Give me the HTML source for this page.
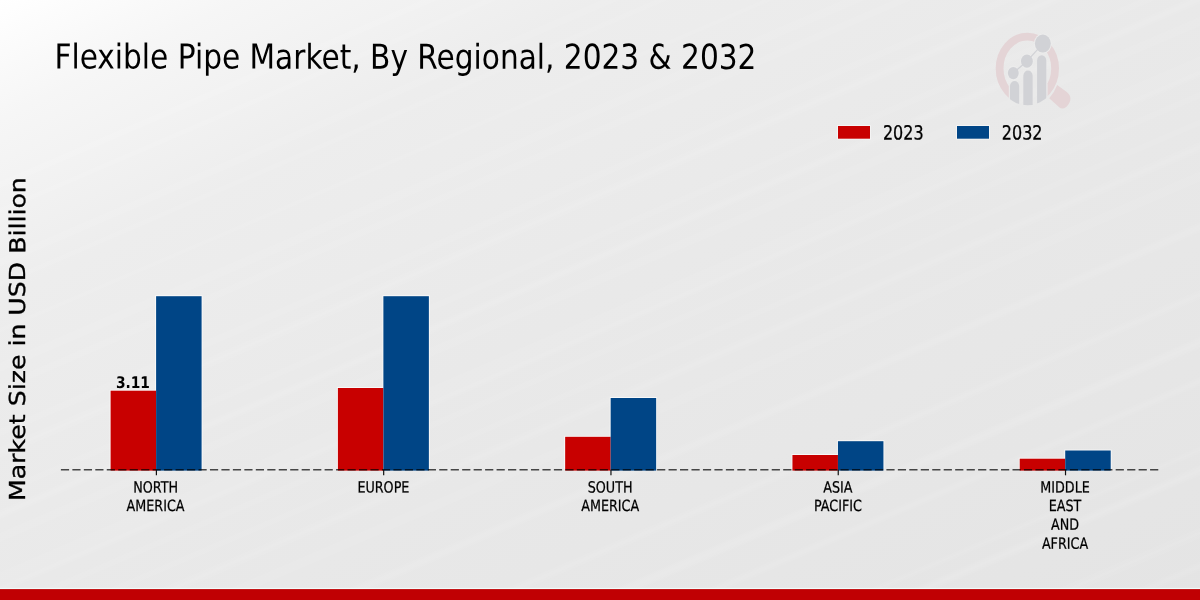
<!DOCTYPE html>
<html lang="en"><head><meta charset="utf-8"><title>Flexible Pipe Market, By Regional, 2023 &amp; 2032</title>
<style>
html,body{margin:0;padding:0;width:1200px;height:600px;overflow:hidden;background:#e6e6e6}
svg{position:absolute;left:0;top:0;display:block}
text{font-family:"DejaVu Sans","Liberation Sans",sans-serif;fill:#000}
</style></head><body>
<svg width="1200" height="600" viewBox="0 0 1200 600">
<defs>
<linearGradient id="bg" x1="0" y1="0" x2="1" y2="1">
<stop offset="0" stop-color="#ffffff"/><stop offset="0.1" stop-color="#f6f6f6"/><stop offset="0.25" stop-color="#ededed"/><stop offset="0.5" stop-color="#e9e9e9"/><stop offset="1" stop-color="#e4e4e4"/>
</linearGradient>
</defs>
<rect width="1200" height="600" fill="url(#bg)"/>
<filter id="sb" x="-5%" y="-5%" width="110%" height="110%"><feGaussianBlur stdDeviation="1.6"/></filter><g stroke="#fff" fill="none" filter="url(#sb)">
<path d="M-10 189.1L1210 -335.5" stroke-width="5.2" stroke-opacity="0.09"/>
<path d="M-10 215.0L1210 -309.6" stroke-width="4.5" stroke-opacity="0.07"/>
<path d="M-10 266.8L1210 -257.8" stroke-width="7.0" stroke-opacity="0.06"/>
<path d="M-10 288.6L1210 -236.0" stroke-width="6.5" stroke-opacity="0.04"/>
<path d="M-10 334.5L1210 -190.1" stroke-width="3.8" stroke-opacity="0.05"/>
<path d="M-10 371.5L1210 -153.1" stroke-width="7.2" stroke-opacity="0.07"/>
<path d="M-10 392.5L1210 -132.1" stroke-width="5.2" stroke-opacity="0.08"/>
<path d="M-10 436.9L1210 -87.7" stroke-width="6.0" stroke-opacity="0.06"/>
<path d="M-10 456.8L1210 -67.8" stroke-width="7.9" stroke-opacity="0.08"/>
<path d="M-10 497.4L1210 -27.2" stroke-width="4.8" stroke-opacity="0.07"/>
<path d="M-10 519.0L1210 -5.6" stroke-width="6.4" stroke-opacity="0.09"/>
<path d="M-10 541.7L1210 17.1" stroke-width="7.5" stroke-opacity="0.06"/>
<path d="M-10 581.8L1210 57.2" stroke-width="8.9" stroke-opacity="0.05"/>
<path d="M-10 592.8L1210 68.2" stroke-width="5.8" stroke-opacity="0.09"/>
<path d="M-10 615.3L1210 90.7" stroke-width="4.3" stroke-opacity="0.07"/>
<path d="M-10 642.8L1210 118.2" stroke-width="3.7" stroke-opacity="0.08"/>
<path d="M-10 667.2L1210 142.6" stroke-width="7.7" stroke-opacity="0.07"/>
<path d="M-10 696.8L1210 172.2" stroke-width="8.3" stroke-opacity="0.06"/>
<path d="M-10 747.5L1210 222.9" stroke-width="7.3" stroke-opacity="0.08"/>
<path d="M-10 814.8L1210 290.2" stroke-width="6.7" stroke-opacity="0.07"/>
<path d="M-10 862.8L1210 338.2" stroke-width="8.1" stroke-opacity="0.1"/>
<path d="M-10 901.4L1210 376.8" stroke-width="6.1" stroke-opacity="0.08"/>
<path d="M-10 970.2L1210 445.6" stroke-width="3.8" stroke-opacity="0.08"/>
<path d="M-10 990.6L1210 466.0" stroke-width="7.1" stroke-opacity="0.1"/>
<path d="M-10 1053.2L1210 528.6" stroke-width="8.0" stroke-opacity="0.06"/>
<path d="M-10 1086.3L1210 561.7" stroke-width="5.6" stroke-opacity="0.08"/>
<path d="M-10 1111.8L1210 587.2" stroke-width="3.6" stroke-opacity="0.07"/>
<path d="M-10 1135.9L1210 611.3" stroke-width="4.4" stroke-opacity="0.05"/>
</g>
<rect x="0" y="587.9" width="1200" height="1.3" fill="#f1fbfb"/>
<rect x="0" y="589.1" width="1200" height="11" fill="#c00003"/>

<text transform="matrix(0.8610 0.0005 0 1 54.4 68.5)" font-size="34.4">Flexible Pipe Market, By Regional, 2023 &amp; 2032</text>
<text transform="translate(25,500.9) rotate(-89.97) scale(1.1455,1)" font-size="22.0" stroke="#000" stroke-width="0.35">Market Size in USD Billion</text>
<rect x="109.70" y="389.80" width="46.40" height="79.00" fill="#fff" fill-opacity="0.75"/>
<rect x="155.20" y="295.30" width="47.30" height="173.50" fill="#fff" fill-opacity="0.75"/>
<rect x="110.60" y="390.7" width="45.50" height="79.90" fill="#c80000"/>
<rect x="156.10" y="296.2" width="45.50" height="174.40" fill="#004586"/>
<rect x="336.98" y="387.10" width="46.40" height="81.70" fill="#fff" fill-opacity="0.75"/>
<rect x="382.48" y="295.30" width="47.30" height="173.50" fill="#fff" fill-opacity="0.75"/>
<rect x="337.88" y="388.0" width="45.50" height="82.60" fill="#c80000"/>
<rect x="383.38" y="296.2" width="45.50" height="174.40" fill="#004586"/>
<rect x="564.26" y="435.90" width="46.40" height="32.90" fill="#fff" fill-opacity="0.75"/>
<rect x="609.76" y="397.10" width="47.30" height="71.70" fill="#fff" fill-opacity="0.75"/>
<rect x="565.16" y="436.8" width="45.50" height="33.80" fill="#c80000"/>
<rect x="610.66" y="398.0" width="45.50" height="72.60" fill="#004586"/>
<rect x="791.54" y="454.10" width="46.40" height="14.70" fill="#fff" fill-opacity="0.75"/>
<rect x="837.04" y="440.30" width="47.30" height="28.50" fill="#fff" fill-opacity="0.75"/>
<rect x="792.44" y="455.0" width="45.50" height="15.60" fill="#c80000"/>
<rect x="837.94" y="441.2" width="45.50" height="29.40" fill="#004586"/>
<rect x="1018.82" y="457.80" width="46.40" height="11.00" fill="#fff" fill-opacity="0.75"/>
<rect x="1064.32" y="449.60" width="47.30" height="19.20" fill="#fff" fill-opacity="0.75"/>
<rect x="1019.72" y="458.7" width="45.50" height="11.90" fill="#c80000"/>
<rect x="1065.22" y="450.5" width="45.50" height="20.10" fill="#004586"/>
<line x1="60.9" y1="469.7" x2="1160.7" y2="469.7" stroke="#000" stroke-opacity="0.7" stroke-width="1.35" stroke-dasharray="8.2 3.265"/>
<line x1="156.40" y1="469.7" x2="156.40" y2="475.3" stroke="#111" stroke-width="1.2"/>
<text transform="matrix(0.8279 0.0005 0 1 155.6 492.6)" font-size="15.4" text-anchor="middle" stroke="#000" stroke-width="0.25">NORTH</text>
<text transform="matrix(0.8279 0.0005 0 1 155.6 510.9)" font-size="15.4" text-anchor="middle" stroke="#000" stroke-width="0.25">AMERICA</text>
<line x1="383.68" y1="469.7" x2="383.68" y2="475.3" stroke="#111" stroke-width="1.2"/>
<text transform="matrix(0.8279 0.0005 0 1 383.38 492.6)" font-size="15.4" text-anchor="middle" stroke="#000" stroke-width="0.25">EUROPE</text>
<line x1="610.96" y1="469.7" x2="610.96" y2="475.3" stroke="#111" stroke-width="1.2"/>
<text transform="matrix(0.8279 0.0005 0 1 610.16 492.6)" font-size="15.4" text-anchor="middle" stroke="#000" stroke-width="0.25">SOUTH</text>
<text transform="matrix(0.8279 0.0005 0 1 610.16 510.9)" font-size="15.4" text-anchor="middle" stroke="#000" stroke-width="0.25">AMERICA</text>
<line x1="838.24" y1="469.7" x2="838.24" y2="475.3" stroke="#111" stroke-width="1.2"/>
<text transform="matrix(0.8279 0.0005 0 1 837.94 492.6)" font-size="15.4" text-anchor="middle" stroke="#000" stroke-width="0.25">ASIA</text>
<text transform="matrix(0.8279 0.0005 0 1 837.94 510.9)" font-size="15.4" text-anchor="middle" stroke="#000" stroke-width="0.25">PACIFIC</text>
<line x1="1065.52" y1="469.7" x2="1065.52" y2="475.3" stroke="#111" stroke-width="1.2"/>
<text transform="matrix(0.8279 0.0005 0 1 1065.02 492.6)" font-size="15.4" text-anchor="middle" stroke="#000" stroke-width="0.25">MIDDLE</text>
<text transform="matrix(0.8279 0.0005 0 1 1065.02 510.9)" font-size="15.4" text-anchor="middle" stroke="#000" stroke-width="0.25">EAST</text>
<text transform="matrix(0.8279 0.0005 0 1 1065.02 529.8)" font-size="15.4" text-anchor="middle" stroke="#000" stroke-width="0.25">AND</text>
<text transform="matrix(0.8279 0.0005 0 1 1065.02 548.7)" font-size="15.4" text-anchor="middle" stroke="#000" stroke-width="0.25">AFRICA</text>
<text transform="matrix(0.8625 0.0005 0 1 132.9 388)" font-size="16.0" text-anchor="middle" font-weight="bold">3.11</text>
<rect x="837.2" y="125.2" width="33.6" height="14.3" fill="#fff" fill-opacity="0.6"/>
<rect x="956.2" y="125.2" width="33.6" height="14.3" fill="#fff" fill-opacity="0.6"/>
<rect x="838" y="126" width="32" height="12.7" fill="#c80000"/>
<text transform="matrix(0.8205 0.0005 0 1 882.9 139.45)" font-size="19.5" stroke="#000" stroke-width="0.3">2023</text>
<rect x="957" y="126" width="32" height="12.7" fill="#004586"/>
<text transform="matrix(0.8205 0.0005 0 1 1001.8 139.45)" font-size="19.5" stroke="#000" stroke-width="0.3">2032</text>
<defs><clipPath id="lc"><ellipse cx="1027.35" cy="68.6" rx="31.95" ry="36.699999999999996"/></clipPath><clipPath id="rc"><path clip-rule="evenodd" d="M980 20H1100V125H980Z M1008.8 84H1047.6V112H1008.8Z"/></clipPath></defs>
<g clip-path="url(#rc)"><ellipse cx="1027.35" cy="68.6" rx="27.75" ry="31.90" fill="none" stroke="#e4d4d6" stroke-width="7.8"/></g>
<path d="M1057.1 85 L1066.5 91.7 C1070.5 94.6 1071.5 99 1069.3 103 C1067 107.5 1063 110 1059.5 107.6 L1049.2 98.3 A32.85 37.099999999999994 0 0 0 1057.1 85Z" fill="#e4d4d6"/>
<g clip-path="url(#lc)"><g transform="translate(1027.35,68.6) scale(0.885,1)" fill="#d1d2d6">
<path d="M-19.6 40 V17.38 A5.18 5.18 0 0 1 -9.25 17.38 V40Z"/>
<path d="M-4.55 40 V7.03 A5.28 5.28 0 0 1 6.0 7.03 V40Z"/>
<path d="M11.0 40 V-8.05 A5.20 5.20 0 0 1 21.4 -8.05 V40Z"/>
</g></g>
<g transform="translate(1027.35,68.6) scale(0.885,1)">
<circle cx="-15.9" cy="4.45" r="7.25" fill="#ececec"/>
<circle cx="-0.5" cy="-7.45" r="7.75" fill="#ececec"/>
<circle cx="17.5" cy="-25.0" r="10.1" fill="#ececec"/>
<path d="M-15.9 4.45 L-0.5 -7.45 L17.5 -25.0" fill="none" stroke="#d1d2d6" stroke-width="1.3"/>
<circle cx="-15.9" cy="4.45" r="6.15" fill="#d1d2d6"/>
<circle cx="-0.5" cy="-7.45" r="6.65" fill="#d1d2d6"/>
<circle cx="17.5" cy="-25.0" r="9.0" fill="#d1d2d6"/>
</g>
</svg></body></html>
